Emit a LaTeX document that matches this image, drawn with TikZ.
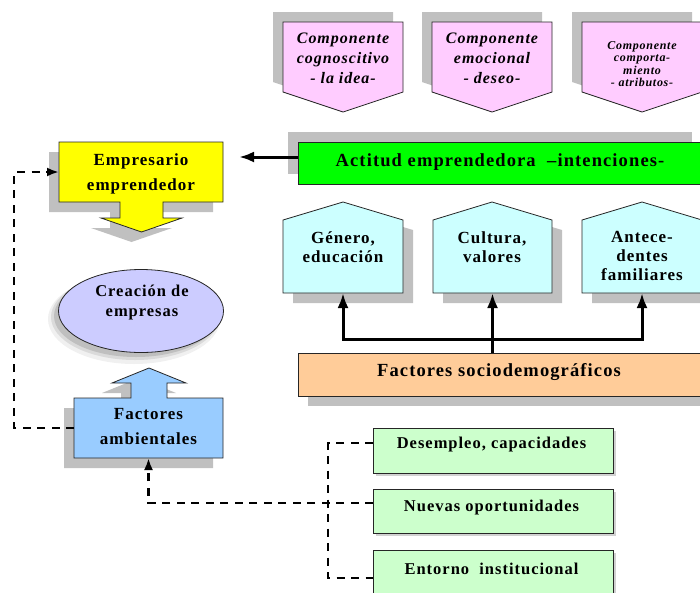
\documentclass[tikz,border=0pt]{standalone}
\usepackage{fontspec}
\setmainfont{Liberation Serif}[LetterSpace=6]
\usetikzlibrary{arrows.meta,shapes.geometric}
\definecolor{shadowgray}{HTML}{C0C0C0}
\definecolor{pinkfill}{HTML}{FFCCFF}
\definecolor{cyanfill}{HTML}{CCFFFF}
\definecolor{yellowfill}{HTML}{FFFF00}
\definecolor{lav}{HTML}{CCCCFF}
\definecolor{bluefill}{HTML}{99CCFF}
\definecolor{actgreen}{HTML}{00FF00}
\definecolor{orangefill}{HTML}{FFCC99}
\definecolor{lightgreen}{HTML}{CCFFCC}
\begin{document}
\begin{tikzpicture}[x=1pt,y=-1pt,
  shad/.style={fill=shadowgray, draw=none},
  bd/.style={draw=black!85, line width=0.8pt},
  lbl/.style={align=center, inner sep=0pt, text=black},
  body/.style={inner sep=0pt, outer sep=0pt},
  pinkfont/.style={font=\fontsize{16}{20}\selectfont\bfseries\itshape},
  pinksmall/.style={font=\fontsize{12}{12.5}\selectfont\bfseries\itshape},
  bigfont/.style={font=\fontsize{17}{25}\selectfont\bfseries},
  midfont/.style={font=\fontsize{17}{19}\selectfont\bfseries},
  barfont/.style={font=\fontsize{18.5}{22}\selectfont\bfseries},
  greenfont/.style={font=\fontsize{16.5}{20}\selectfont\bfseries},
  thickarrow/.style={line width=3pt, -{Latex[length=15pt,width=11pt]}},
  thickline/.style={line width=3pt},
  dashline/.style={line width=2.6pt, dash pattern=on 8pt off 6.5pt},
  dasharrow/.style={line width=2.6pt, dash pattern=on 8pt off 6.5pt, -{Latex[length=12pt,width=9pt]}},
]
\useasboundingbox (0,0) rectangle (700,592);
\clip (0,0) rectangle (700,592);
\fill[white] (0,0) rectangle (700,592);

% ---- pink pentagons (pointing down), shadow up-left
\fill[shadowgray] (273,12) -- ++(120,0) -- ++(0,70) -- ++(-60,20) -- ++(-60,-20) -- cycle;
\fill[shadowgray] (422,12) -- ++(120,0) -- ++(0,70) -- ++(-60,20) -- ++(-60,-20) -- cycle;
\fill[shadowgray] (572,12) -- ++(120,0) -- ++(0,70) -- ++(-60,20) -- ++(-60,-20) -- cycle;
\filldraw[fill=pinkfill, bd] (283,22) -- ++(120,0) -- ++(0,70) -- ++(-60,20) -- ++(-60,-20) -- cycle;
\filldraw[fill=pinkfill, bd] (432,22) -- ++(120,0) -- ++(0,70) -- ++(-60,20) -- ++(-60,-20) -- cycle;
\filldraw[fill=pinkfill, bd] (582,22) -- ++(120,0) -- ++(0,70) -- ++(-60,20) -- ++(-60,-20) -- cycle;
\node[lbl, pinkfont] (p1) at (343,58) {Componente\\cognoscitivo\\- la idea-};
\node[lbl, pinkfont] (p2) at (492,58) {Componente\\emocional\\- deseo-};
\node[lbl, pinksmall] (p3) at (642,64) {Componente\\comporta-\\miento\\- atributos-};

% ---- green bar
\fill[shadowgray] (288,132) rectangle (692,174);
\node[body, bd, fill=actgreen, minimum width=404pt, minimum height=42pt] (act) at (500,163) {};
\node[lbl, barfont] (acttxt) at (500,162) {Actitud emprendedora \ --intenciones-};

% ---- yellow Empresario
\fill[shadowgray] (49,152) -- (213,152) -- (213,212) -- (153,212) -- (153,228) -- (172,228) -- (131.5,242) -- (91,228) -- (110,228) -- (110,212) -- (49,212) -- cycle;
\filldraw[fill=yellowfill, bd] (59,142) -- (223,142) -- (223,202) -- (163,202) -- (163,218) -- (182,218) -- (141.5,232) -- (101,218) -- (120,218) -- (120,202) -- (59,202) -- cycle;
\node[body, minimum width=164pt, minimum height=60pt] (emp) at (141,172) {};
\node[lbl, bigfont] (emptxt) at (141,174) {Empresario\\emprendedor};

% ---- ellipse
\fill[black, opacity=0.06] (134,319) ellipse [x radius=86pt, y radius=45pt];
\fill[black, opacity=0.09] (135,317) ellipse [x radius=84pt, y radius=43pt];
\fill[black, opacity=0.12] (136,316) ellipse [x radius=82pt, y radius=41pt];
\node[ellipse, bd, fill=lav, minimum width=165pt, minimum height=83pt, inner sep=0pt] (cre) at (141,311) {};
\node[lbl, font=\fontsize{16.5}{20}\selectfont\bfseries] (cretxt) at (142,303) {Creación de\\empresas};

% ---- blue Factores ambientales
\fill[shadowgray] (64,468) -- (64,408) -- (121,408) -- (121,393) -- (102,393) -- (139,378) -- (176,393) -- (157,393) -- (157,408) -- (213,408) -- (213,468) -- cycle;
\filldraw[fill=bluefill, bd] (74,458) -- (74,398) -- (131,398) -- (131,383) -- (112,383) -- (149,368) -- (186,383) -- (167,383) -- (167,398) -- (223,398) -- (223,458) -- cycle;
\node[body, minimum width=149pt, minimum height=60pt] (fam) at (148.5,428) {};
\node[lbl, bigfont] (famtxt) at (148.5,427) {Factores\\ambientales};

% ---- cyan pentagons (pointing up), shadow down-right
\fill[shadowgray] (293,230) -- (353,212) -- (413,230) -- (413,303) -- (293,303) -- cycle;
\fill[shadowgray] (443,230) -- (502,212) -- (562,230) -- (562,303) -- (443,303) -- cycle;
\fill[shadowgray] (592,230) -- (652,212) -- (712,230) -- (712,303) -- (592,303) -- cycle;
\filldraw[fill=cyanfill, bd] (283,293) -- (283,220) -- (343,202) -- (403,220) -- (403,293) -- cycle;
\filldraw[fill=cyanfill, bd] (433,293) -- (433,220) -- (492,202) -- (552,220) -- (552,293) -- cycle;
\filldraw[fill=cyanfill, bd] (582,293) -- (582,220) -- (642,202) -- (702,220) -- (702,293) -- cycle;
\node[body, minimum width=120pt, minimum height=73pt] (gen) at (343,256.5) {};
\node[body, minimum width=119pt, minimum height=73pt] (cul) at (492.5,256.5) {};
\node[body, minimum width=120pt, minimum height=73pt] (ant) at (642,256.5) {};
\node[lbl, midfont] (gentxt) at (343,247) {Género,\\educación};
\node[lbl, midfont] (cultxt) at (492,247) {Cultura,\\valores};
\node[lbl, midfont] (anttxt) at (642,256) {Antece-\\dentes\\familiares};

% ---- orange Factores sociodemograficos
\fill[shadowgray] (308,363) rectangle (712,406);
\node[body, bd, fill=orangefill, minimum width=404pt, minimum height=43pt] (soc) at (500,374.5) {};
\node[lbl, barfont] (soctxt) at (499,372) {Factores sociodemográficos};

% ---- connectors from sociodemograficos
\coordinate (J) at (492.5,339);
\draw[thickline] (soc.north -| J) -- (J);
\draw[thickarrow] (J) -| (gen.south);
\draw[thickarrow] (J) -| (ant.south);
\draw[thickarrow] (soc.north -| cul.south) -- (cul.south);

% ---- Actitud -> Empresario
\coordinate (a1) at (239,157);
\draw[thickarrow] (act.west |- a1) -- (a1);

% ---- light green boxes
\fill[black, opacity=0.18] (376,431) rectangle (616,476);
\fill[black, opacity=0.18] (376,492) rectangle (616,536);
\fill[black, opacity=0.18] (376,553) rectangle (616,598);
\node[body, bd, fill=lightgreen, minimum width=240pt, minimum height=45pt] (des) at (493,450.5) {};
\node[body, bd, fill=lightgreen, minimum width=240pt, minimum height=44pt] (nue) at (493,511) {};
\node[body, bd, fill=lightgreen, minimum width=240pt, minimum height=45pt] (ent) at (493,572.5) {};
\node[lbl, greenfont] (destxt) at (491.5,445) {Desempleo, capacidades};
\node[lbl, greenfont] (nuetxt) at (491.5,508) {Nuevas oportunidades};
\node[lbl, greenfont] (enttxt) at (491.5,569) {Entorno \ institucional};

% ---- dashed connectors
\coordinate (L1) at (14,428);
\coordinate (L2) at (14,172);
\draw[dasharrow] (fam.west) -- (L1) -- (L2) -- (emp.west |- L2);
\coordinate (B1) at (328,443);
\coordinate (B2) at (328,578);
\draw[dashline] (des.west |- B1) -- (B1) -- (B2) -- (ent.west |- B2);
\coordinate (B3) at (148.5,503);
\draw[dasharrow] (nue.west |- B3) -- (B3) -- (fam.south);
\end{tikzpicture}
\end{document}
